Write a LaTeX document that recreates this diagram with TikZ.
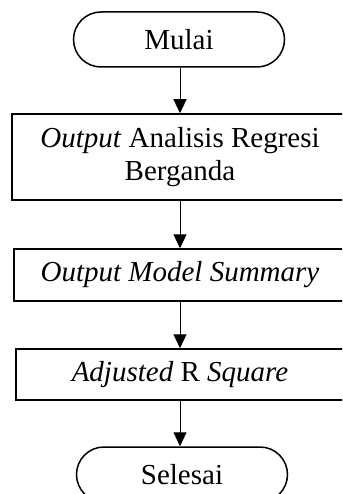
\documentclass[tikz,border=0pt]{standalone}
\usepackage{fontspec}
\setmainfont{Liberation Serif}
\usetikzlibrary{arrows.meta}
\usetikzlibrary{shapes.misc}

\begin{document}
\begin{tikzpicture} [x = 1pt, y = {(0pt,-1pt)},
    font = \fontsize{29}{33}\selectfont,
    terminal/.style = {draw, line width = 1.5pt, rounded rectangle, minimum width = 211pt, minimum height = 55pt, inner sep = 0pt},
    proses/.style = {draw, line width = 1.5pt, rectangle, align = center, inner sep = 0pt},
    panah/.style = {-{Triangle[length = 14pt, width = 13pt]}, line width = 1pt}]

    \useasboundingbox (0,0) rectangle (342,494);
    \clip (0,0) rectangle (342,494);

    \node [terminal] (mulai) at (179,39.5) {Mulai};
    \node [proses, minimum width = 336pt, minimum height = 86pt] (regresi) at (180,157) {\textit{Output} Analisis Regresi\\Berganda};
    \node [proses, minimum width = 332pt, minimum height = 52pt] (summary) at (180,275) {\textit{Output Model Summary}};
    \node [proses, minimum width = 328pt, minimum height = 51pt] (adjusted) at (180,374.5) {\textit{Adjusted} R \textit{Square}};
    \node [terminal] (selesai) at (182,474.5) {Selesai};

    %arrows between the steps
    \draw [panah] (mulai.south -| regresi.north) -- (regresi);
    \draw [panah] (regresi) -- (summary);
    \draw [panah] (summary) -- (adjusted);
    \draw [panah] (adjusted) -- (adjusted |- selesai.north);

\end{tikzpicture}
\end{document}
